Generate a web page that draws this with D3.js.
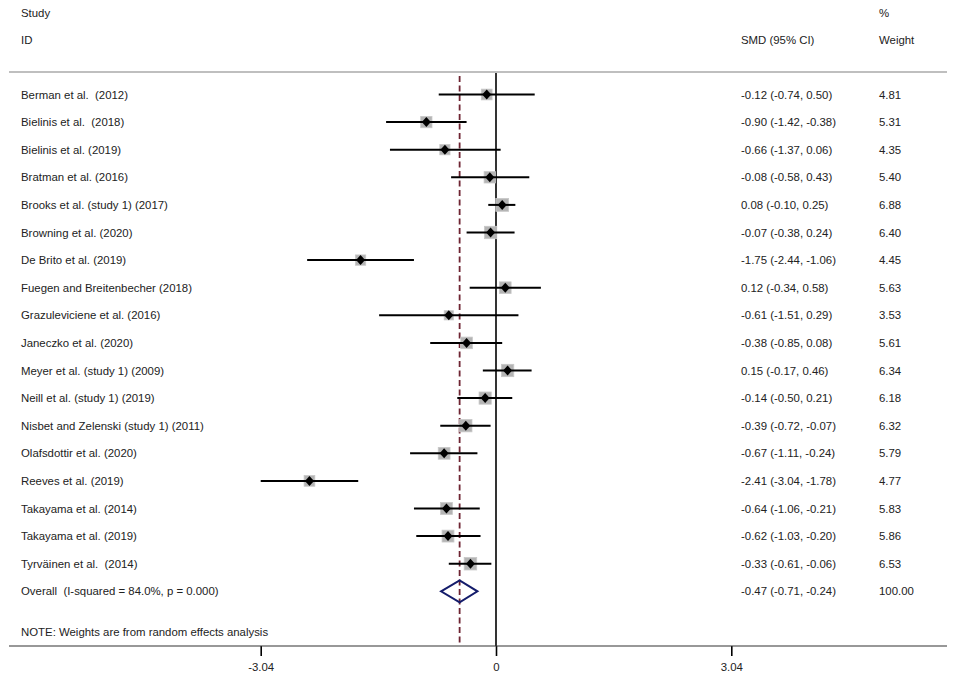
<!DOCTYPE html>
<html>
<head>
<meta charset="utf-8">
<script src="https://cdn.jsdelivr.net/npm/d3@7"></script>
<style>
  body { margin: 0; background: #fff; }
  svg text { font-family: "Liberation Sans", Arial, sans-serif; font-size: 11.4px; fill: #222; white-space: pre; }
</style>
</head>
<body>
<div id="chart"></div>
<script>
// study labels, effect sizes (SMD), confidence limits and weights
var studies = [
  "Berman et al.  (2012)", "Bielinis et al.  (2018)", "Bielinis et al. (2019)",
  "Bratman et al. (2016)", "Brooks et al. (study 1) (2017)", "Browning et al. (2020)",
  "De Brito et al. (2019)", "Fuegen and Breitenbecher (2018)", "Grazuleviciene et al. (2016)",
  "Janeczko et al. (2020)", "Meyer et al. (study 1) (2009)", "Neill et al. (study 1) (2019)",
  "Nisbet and Zelenski (study 1) (2011)", "Olafsdottir et al. (2020)", "Reeves et al. (2019)",
  "Takayama et al. (2014)", "Takayama et al. (2019)", "Tyrväinen et al.  (2014)"
];
var smd   = [-0.12, -0.90, -0.66, -0.08, 0.08, -0.07, -1.75, 0.12, -0.61, -0.38, 0.15, -0.14, -0.39, -0.67, -2.41, -0.64, -0.62, -0.33];
var lower = [-0.74, -1.42, -1.37, -0.58, -0.10, -0.38, -2.44, -0.34, -1.51, -0.85, -0.17, -0.50, -0.72, -1.11, -3.04, -1.06, -1.03, -0.61];
var upper = [0.50, -0.38, 0.06, 0.43, 0.25, 0.24, -1.06, 0.58, 0.29, 0.08, 0.46, 0.21, -0.07, -0.24, -1.78, -0.21, -0.20, -0.06];
var weight = [4.81, 5.31, 4.35, 5.40, 6.88, 6.40, 4.45, 5.63, 3.53, 5.61, 6.34, 6.18, 6.32, 5.79, 4.77, 5.83, 5.86, 6.53];

var overallLabel = "Overall  (I-squared = 84.0%, p = 0.000)";
var overall = { smd: -0.47, lower: -0.71, upper: -0.24, weight: 100.00 };
var xTicks = [-3.04, 0, 3.04];
var note = "NOTE: Weights are from random effects analysis";

var width = 957, height = 682;

var svg = d3.select("#chart").append("svg")
    .attr("width", width)
    .attr("height", height);

var x = d3.scaleLinear()
    .domain([-3.04, 3.04])
    .range([260.7, 731.3]);

// one row per study plus the overall row
var y = d3.scaleLinear()
    .domain([0, 1])
    .range([94.5, 122.1]);

var rows = studies.map(function(s, i) {
  return {label: s, smd: smd[i], lo: lower[i], hi: upper[i], w: weight[i], i: i};
});
var nRows = rows.length;

var f2 = function(v) { return v.toFixed(2); };
var ciText = function(m, lo, hi) { return f2(m) + " (" + f2(lo) + ", " + f2(hi) + ")"; };

var axisY = 646, topY = 72;

// header
svg.append("text").attr("x", 21).attr("y", 17).text("Study");
svg.append("text").attr("x", 21).attr("y", 44).text("ID");
svg.append("text").attr("x", 741).attr("y", 44).text("SMD (95% CI)");
svg.append("text").attr("x", 879).attr("y", 17).text("%");
svg.append("text").attr("x", 879).attr("y", 44).text("Weight");

svg.append("line")
    .attr("x1", 9).attr("x2", 947)
    .attr("y1", topY).attr("y2", topY)
    .attr("stroke", "#aaa").attr("stroke-width", 1.5);

// null line and overall effect line
svg.append("line")
    .attr("x1", x(0)).attr("x2", x(0))
    .attr("y1", topY + 1).attr("y2", axisY)
    .attr("stroke", "#000").attr("stroke-width", 1.6);

svg.append("line")
    .attr("x1", x(overall.smd)).attr("x2", x(overall.smd))
    .attr("y1", topY + 4).attr("y2", axisY)
    .attr("stroke", "#6e2432").attr("stroke-width", 1.8)
    .attr("stroke-dasharray", "6,3.5");

// studies
var row = svg.selectAll(".row")
  .data(rows)
  .enter().append("g")
    .attr("class", "row")
    .attr("transform", function(d) { return "translate(0," + y(d.i) + ")"; });

row.append("text")
    .attr("x", 21).attr("y", 4)
    .text(function(d) { return d.label; });

var half = function(d) { return 2.45 * Math.sqrt(d.w); };

row.append("rect")
    .attr("x", function(d) { return x(d.smd) - half(d); })
    .attr("y", function(d) { return -half(d); })
    .attr("width", function(d) { return 2 * half(d); })
    .attr("height", function(d) { return 2 * half(d); })
    .attr("fill", "#b4b4b4")
    .attr("stroke", "#c8c8c8").attr("stroke-width", 0.8);

row.append("line")
    .attr("x1", function(d) { return x(d.lo); })
    .attr("x2", function(d) { return x(d.hi); })
    .attr("stroke", "#000").attr("stroke-width", 2);

row.append("path")
    .attr("d", function(d) {
      var cx = x(d.smd);
      return "M" + (cx - 4.5) + ",0L" + cx + ",-5L" + (cx + 4.5) + ",0L" + cx + ",5Z";
    })
    .attr("fill", "#000");

row.append("text")
    .attr("x", 741).attr("y", 4)
    .text(function(d) { return ciText(d.smd, d.lo, d.hi); });

row.append("text")
    .attr("x", 879).attr("y", 4)
    .text(function(d) { return f2(d.w); });

// overall row
var oy = y(nRows);
svg.append("text").attr("x", 21).attr("y", oy + 4).text(overallLabel);
svg.append("path")
    .attr("d", "M" + x(overall.lower) + "," + oy +
               "L" + x(overall.smd) + "," + (oy - 11) +
               "L" + x(overall.upper) + "," + oy +
               "L" + x(overall.smd) + "," + (oy + 11) + "Z")
    .attr("fill", "none")
    .attr("stroke", "#141c6b").attr("stroke-width", 2);
svg.append("text").attr("x", 741).attr("y", oy + 4)
    .text(ciText(overall.smd, overall.lower, overall.upper));
svg.append("text").attr("x", 879).attr("y", oy + 4).text(f2(overall.weight));

svg.append("text").attr("x", 21).attr("y", 636).text(note);

// x axis
var axis = svg.append("g")
    .attr("transform", "translate(0," + axisY + ")")
    .call(d3.axisBottom(x)
      .tickValues(xTicks)
      .tickSize(10)
      .tickPadding(7)
      .tickFormat(function(d) { return d === 0 ? "0" : f2(d); }));

axis.select(".domain").remove();
axis.selectAll(".tick line").attr("stroke", "#000").attr("stroke-width", 1.6);
axis.selectAll(".tick text").style("font-size", "11.4px").attr("fill", "#222");

svg.append("line")
    .attr("x1", 9).attr("x2", 947)
    .attr("y1", axisY).attr("y2", axisY)
    .attr("stroke", "#333").attr("stroke-width", 1.2);
</script>
</body>
</html>
